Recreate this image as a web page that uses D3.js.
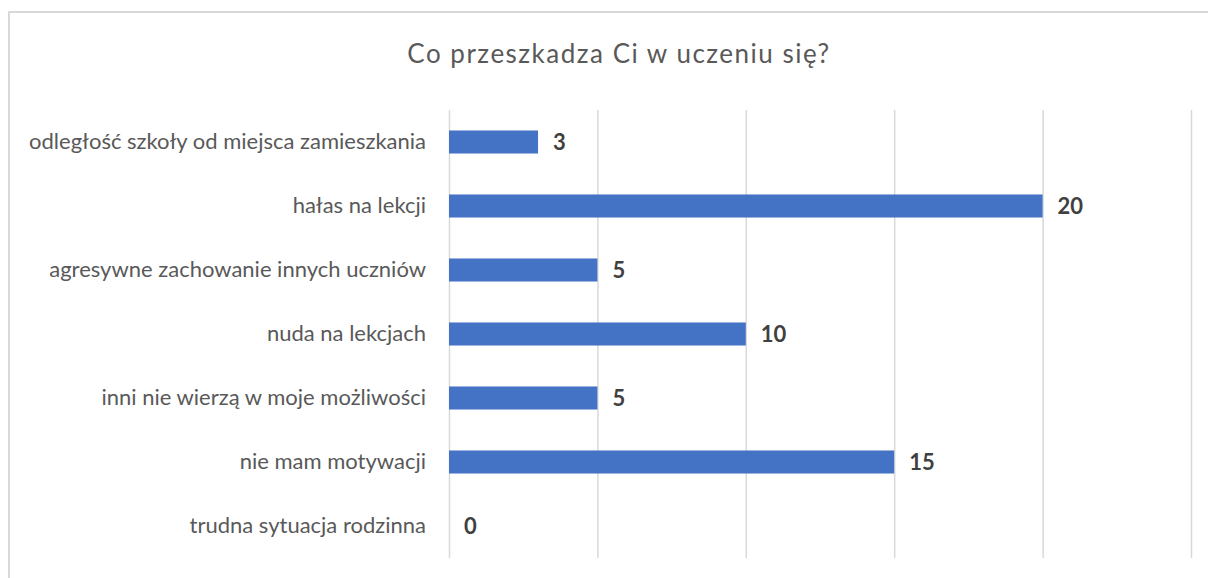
<!DOCTYPE html>
<html>
<head>
<meta charset="utf-8">
<script src="https://cdn.jsdelivr.net/npm/d3@7"></script>
<style>
  body { margin: 0; background: #fff; }
  svg { display: block; }
</style>
</head>
<body>
<div id="chart"></div>
<script>
var width = 1208;
var height = 578;

var categories = [
    "odległość szkoły od miejsca zamieszkania",
    "hałas na lekcji",
    "agresywne zachowanie innych uczniów",
    "nuda na lekcjach",
    "inni nie wierzą w moje możliwości",
    "nie mam motywacji",
    "trudna sytuacja rodzinna"
];
var values = [3, 20, 5, 10, 5, 15, 0];
var xTicks = [0, 5, 10, 15, 20, 25];
var title = "Co przeszkadza Ci w uczeniu się?";

var font = "Lato, 'Open Sans', sans-serif";

var svg = d3.select("#chart")
    .append("svg")
    .attr("width", width)
    .attr("height", height);

svg.append("rect")
    .attr("width", width)
    .attr("height", height)
    .style("fill", "#fff");

// chart frame (only left and top visible in the crop)
svg.append("rect")
    .attr("x", 9)
    .attr("y", 12)
    .attr("width", width + 20)
    .attr("height", height + 20)
    .style("fill", "none")
    .style("stroke", "#d9d9d9")
    .style("stroke-width", 2);

var x = d3.scaleLinear()
    .domain([0, 25])
    .range([449, 1191]);

var y = d3.scaleBand()
    .domain(categories)
    .range([110, 558])
    .paddingInner(0.64)
    .paddingOuter(0.32);

// vertical gridlines
var grid = svg.append("g")
    .attr("transform", "translate(0,558)")
    .call(d3.axisBottom(x).tickValues(xTicks).tickSize(-448).tickFormat(""));
grid.select(".domain").remove();
grid.selectAll(".tick line")
    .style("stroke", "#d9d9d9")
    .style("stroke-width", 1.5);

// category labels
var yAxis = svg.append("g")
    .attr("transform", "translate(449,0)")
    .call(d3.axisLeft(y).tickSize(0).tickPadding(23));
yAxis.select(".domain").remove();
yAxis.selectAll("text")
    .style("font-family", font)
    .style("font-size", "22px")
    .style("fill", "#595959");

svg.selectAll(".bar")
    .data(values)
    .enter()
    .append("rect")
    .attr("class", "bar")
    .attr("x", x(0))
    .attr("y", function(d, i){ return y(categories[i]); })
    .attr("width", function(d){ return x(d) - x(0); })
    .attr("height", y.bandwidth())
    .style("fill", "#4472c4");

svg.selectAll(".val")
    .data(values)
    .enter()
    .append("text")
    .attr("class", "val")
    .attr("x", function(d){ return x(d) + 15; })
    .attr("y", function(d, i){ return y(categories[i]) + y.bandwidth() / 2; })
    .attr("dy", "0.35em")
    .style("font-family", font)
    .style("font-weight", "bold")
    .style("font-size", "22px")
    .style("fill", "#404040")
    .text(function(d){ return d; });

svg.append("text")
    .attr("x", 619)
    .attr("y", 63)
    .attr("text-anchor", "middle")
    .style("font-family", font)
    .style("font-size", "26px")
    .style("letter-spacing", "1.5px")
    .style("fill", "#595959")
    .text(title);
</script>
</body>
</html>
